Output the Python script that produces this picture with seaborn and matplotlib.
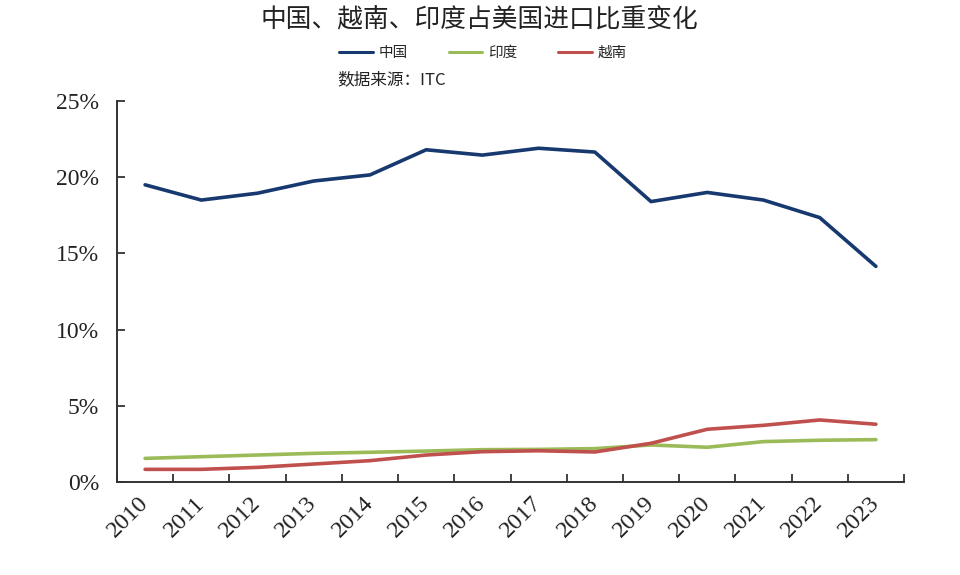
import numpy as np
import pandas as pd
import matplotlib
matplotlib.use("Agg")
import matplotlib.pyplot as plt
from matplotlib.ticker import FuncFormatter
from matplotlib.lines import Line2D
import seaborn as sns

# ---- data ----
years = [str(y) for y in range(2010, 2024)]
china = [19.5, 18.5, 18.95, 19.75, 20.15, 21.8, 21.45, 21.9, 21.65, 18.4, 19.0, 18.5, 17.35, 14.15]
india = [1.55, 1.66, 1.77, 1.88, 1.95, 2.03, 2.12, 2.14, 2.19, 2.43, 2.28, 2.65, 2.74, 2.78]
vietnam = [0.83, 0.83, 0.96, 1.18, 1.40, 1.77, 1.99, 2.05, 1.97, 2.54, 3.46, 3.72, 4.07, 3.79]
series_names = ["中国", "印度", "越南"]
series_colors = ["#17396F", "#9BBB59", "#C0504D"]
y_ticks = [0, 5, 10, 15, 20, 25]
title = "中国、越南、印度占美国进口比重变化"
source = "数据来源：ITC"

df = pd.DataFrame({
    "pos": list(range(len(years))) * 3,
    "share": china + india + vietnam,
    "country": [n for n in series_names for _ in years],
})

sns.set_theme(style="white")
plt.rcParams["font.family"] = ["Noto Sans CJK SC", "DejaVu Sans"]

fig = plt.figure(figsize=(9.6, 5.75), dpi=100)
ax = fig.add_axes([117 / 960, 1 - 482 / 575, (904 - 117) / 960, (482 - 101) / 575])

sns.lineplot(data=df, x="pos", y="share", hue="country", hue_order=series_names,
             palette=series_colors, linewidth=2.6, ax=ax, legend=False,
             solid_capstyle="round", solid_joinstyle="round")

ax.set_xlim(-0.5, len(years) - 0.5)
ax.set_ylim(0, 25)
ax.set_xlabel("")
ax.set_ylabel("")

for s in ["top", "right"]:
    ax.spines[s].set_visible(False)
for s in ["left", "bottom"]:
    ax.spines[s].set_color("#333333")
    ax.spines[s].set_linewidth(1.4)

serif = ["Liberation Serif", "DejaVu Serif"]
ax.set_yticks(y_ticks)
ax.yaxis.set_major_formatter(FuncFormatter(lambda v, p: f"{v:.0f}%"))
for lab in ax.get_yticklabels():
    lab.set_family(serif)
ax.tick_params(axis="y", direction="in", length=6, width=1.3, color="#333333",
               labelsize=17, pad=13, left=True, labelcolor="#222222")

ax.set_xticks(np.arange(-0.5, len(years), 1.0))
ax.set_xticklabels([])
ax.set_xticks(np.arange(len(years)), minor=True)
ax.set_xticklabels(years, minor=True, rotation=45, ha="right", va="center",
                   rotation_mode="anchor", family=serif, fontsize=17.5, color="#222222")
ax.tick_params(axis="x", which="major", direction="in", length=6, width=1.3,
               color="#333333", bottom=True)
ax.tick_params(axis="x", which="minor", length=0, pad=13, bottom=True)

# legend
handles = [Line2D([0], [0], color=c, lw=2.2) for c in series_colors]
fig.legend(handles, series_names, loc="center", bbox_to_anchor=(0.503, 1 - 53 / 575),
           ncol=3, frameon=False, fontsize=10.5, handlelength=2.3, handletextpad=0.4,
           columnspacing=2.8, borderpad=0)

fig.text(0.499, 1 - 20 / 575, title, ha="center", va="center", fontsize=18.5, color="#222222")
fig.text(337 / 960, 1 - 80 / 575, source, ha="left", va="center", fontsize=12, color="#222222")

fig.savefig("out.png", dpi=100, facecolor="white")
